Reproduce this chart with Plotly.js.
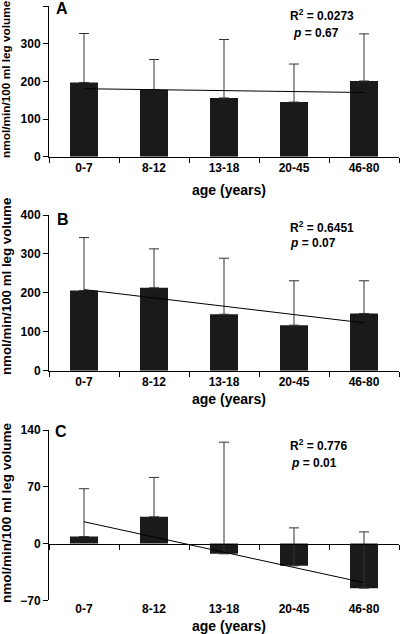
<!DOCTYPE html>
<html><head><meta charset="utf-8">
<script src="https://cdn.plot.ly/plotly-3.0.1.min.js"></script>
<style>html,body{margin:0;padding:0;background:#fff}#chart{width:400px;height:634px}</style>
</head><body><div id="chart"></div>
<script>
// ---- data ----
const categories = ['0-7', '8-12', '13-18', '20-45', '46-80'];
const meansA = [197, 178, 156, 145, 201];
const errA   = [130, 80, 155, 101, 125];
const meansB = [206, 213, 145, 117, 147];
const errB   = [136, 100, 144, 114, 84];
const meansC = [8.6, 33, -12.7, -27.5, -55];
const errC   = [59, 48.5, 137.7, 46.8, 69.4];
const statsA = ['R<sup>2</sup> = 0.0273', '<i>p</i> = 0.67'];
const statsB = ['R<sup>2</sup> = 0.6451', '<i>p</i> = 0.07'];
const statsC = ['R<sup>2</sup> = 0.776', '<i>p</i> = 0.01'];
const yTitle = 'nmol/min/100 ml leg volume';
const xTitle = 'age (years)';

// least-squares trend of the bar means across category index
function fit(vals) {
  const n = vals.length, mx = (n - 1) / 2;
  const my = vals.reduce((a, b) => a + b, 0) / n;
  let sxy = 0, sxx = 0;
  vals.forEach((v, i) => { sxy += (i - mx) * (v - my); sxx += (i - mx) * (i - mx); });
  const b = sxy / sxx;
  return vals.map((_, i) => my + b * (i - mx));
}

const W = 400, H = 634;
const px = v => v / W;
const py = v => 1 - v / H;
const FONT = 'Liberation Sans, Arial, Helvetica, sans-serif';
const BAR = '#1a1a1a';
const idx = categories.map((_, i) => i);
const bounds = categories.map((_, i) => i - 0.5).concat([categories.length - 0.5]);

function barTrace(means, err, xa, ya) {
  return {
    type: 'bar', x: categories, y: means, xaxis: xa, yaxis: ya, width: 0.4,
    marker: { color: BAR, line: { width: 0 } },
    error_y: { type: 'data', symmetric: false, array: err, arrayminus: err.map(() => 0),
               color: '#333', thickness: 1, width: 5 },
    hoverinfo: 'none', showlegend: false
  };
}
function lineTrace(xs, means, xa, ya) {
  return { type: 'scatter', mode: 'lines', x: xs, y: fit(means), xaxis: xa, yaxis: ya,
           line: { color: '#000', width: 1 }, hoverinfo: 'none', showlegend: false };
}

const data = [
  barTrace(meansA, errA, 'x', 'y'),
  lineTrace(categories, meansA, 'x', 'y'),
  barTrace(meansB, errB, 'x2', 'y2'),
  lineTrace(categories, meansB, 'x2', 'y2'),
  barTrace(meansC, errC, 'x3', 'y3'),
  lineTrace(idx, meansC, 'x4', 'y3')
];

const tickfont = { family: FONT, size: 12, color: '#000', weight: 'bold' };
const xd = [px(49), px(399)];
const domA = [py(156.7), py(6)];
const domB = [py(370.7), py(215)];
const domC = [py(600.3), py(430)];
const rangeC = [-70, 140];
const zeroPos = domC[0] + (0 - rangeC[0]) / (rangeC[1] - rangeC[0]) * (domC[1] - domC[0]);

function xCat(anchor) {
  return { type: 'category', domain: xd, anchor: anchor, range: [-0.5, 4.5],
           tickson: 'boundaries', ticks: 'outside', ticklen: 5, tickwidth: 1, tickcolor: '#000',
           showline: true, linecolor: '#000', linewidth: 1, showgrid: false, zeroline: false,
           tickfont: tickfont, fixedrange: true };
}
function yLin(dom, anchor, range, dtick) {
  return { domain: dom, anchor: anchor, range: range, dtick: dtick, tick0: 0,
           ticks: 'outside', ticklen: 5, tickwidth: 1, tickcolor: '#000',
           showline: true, linecolor: '#000', linewidth: 1, showgrid: false, zeroline: false,
           tickfont: tickfont, fixedrange: true };
}

const annotations = [];
function ann(text, x, y, size, opts) {
  annotations.push(Object.assign({ text: text, x: px(x), y: py(y), xref: 'paper', yref: 'paper',
    showarrow: false, xanchor: 'center', yanchor: 'middle',
    font: { family: FONT, size: size, color: '#000', weight: 'bold' } }, opts || {}));
}
// y titles
ann(yTitle, 6, 79, 11.8, { textangle: -90 });
ann(yTitle, 6, 287, 13.3, { textangle: -90 });
ann(yTitle, 6, 513, 13.5, { textangle: -90 });
// x titles
ann(xTitle, 229, 190, 14);
ann(xTitle, 229, 399, 14);
ann(xTitle, 229, 626, 14);
// panel letters
ann('A', 62, 8, 16);
ann('B', 63, 219, 16);
ann('C', 61, 431, 16);
// stats
ann(statsA[0], 288, 15, 12, { xanchor: 'left' });
ann(statsA[1], 291, 33, 12, { xanchor: 'left' });
ann(statsB[0], 288, 227, 12, { xanchor: 'left' });
ann(statsB[1], 288, 243, 12, { xanchor: 'left' });
ann(statsC[0], 288, 445, 12, { xanchor: 'left' });
ann(statsC[1], 289, 463, 12, { xanchor: 'left' });

const layout = {
  width: W, height: H, margin: { l: 0, r: 0, t: 0, b: 0 },
  paper_bgcolor: '#fff', plot_bgcolor: 'rgba(0,0,0,0)',
  font: { family: FONT, color: '#000' },
  showlegend: false, bargap: 0.6,
  xaxis: xCat('y'),
  yaxis: yLin(domA, 'x', [0, 400], 100),
  xaxis2: xCat('y2'),
  yaxis2: yLin(domB, 'x2', [0, 400], 100),
  xaxis3: Object.assign(xCat('y3'), { showline: false, ticks: '' }),
  yaxis3: yLin(domC, 'x3', rangeC, 70),
  xaxis4: { overlaying: 'x3', anchor: 'free', position: zeroPos, domain: xd,
            range: [-0.5, 4.5], tickvals: bounds, ticks: 'outside', ticklen: 5, tickwidth: 1,
            tickcolor: '#000', showline: true, linecolor: '#000', linewidth: 1,
            showgrid: false, zeroline: false, showticklabels: false, fixedrange: true },
  annotations: annotations
};

Plotly.newPlot('chart', data, layout, { displayModeBar: false, staticPlot: true });
</script>
</body></html>
